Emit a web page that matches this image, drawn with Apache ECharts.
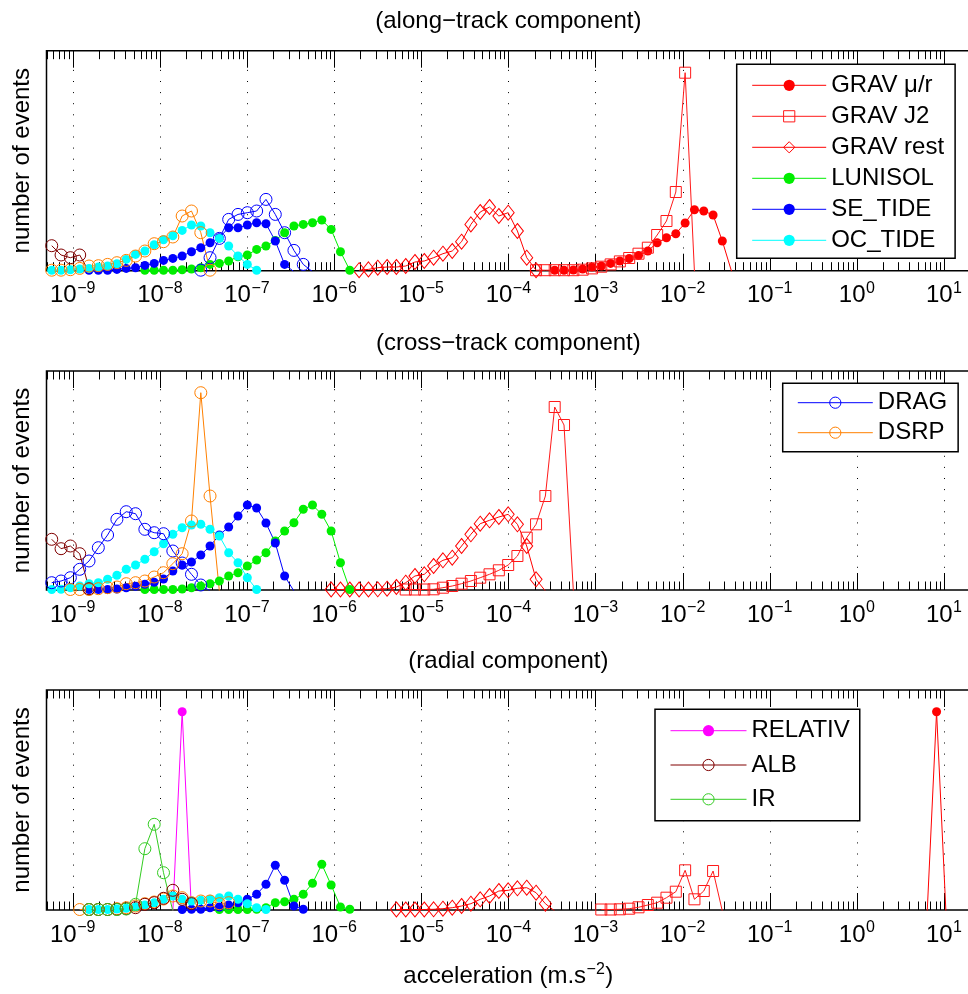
<!DOCTYPE html>
<html><head><meta charset="utf-8">
<script src="https://cdn.jsdelivr.net/npm/echarts@6.0.0/dist/echarts.min.js"></script>
<style>html,body{margin:0;padding:0;background:#fff}#c{width:968px;height:994px}</style>
</head><body><div id="c"></div>
<script>
// ---------- DATA ----------
// log10 of histogram bin centres (acceleration, m.s^-2), bin index k = 0..96
const binCentreLog10 = [
 -9.241,-9.134,-9.027,-8.920,-8.813,-8.706,-8.600,-8.493,-8.386,-8.279,
 -8.172,-8.065,-7.958,-7.851,-7.744,-7.637,-7.530,-7.424,-7.317,-7.210,
 -7.103,-6.996,-6.889,-6.782,-6.675,-6.568,-6.461,-6.354,-6.248,-6.141,
 -6.034,-5.927,-5.820,-5.713,-5.606,-5.499,-5.392,-5.285,-5.178,-5.072,
 -4.965,-4.858,-4.751,-4.644,-4.537,-4.430,-4.323,-4.216,-4.109,-4.002,
 -3.896,-3.789,-3.682,-3.575,-3.468,-3.361,-3.254,-3.147,-3.040,-2.933,
 -2.826,-2.720,-2.613,-2.506,-2.399,-2.292,-2.185,-2.078,-1.971,-1.864,
 -1.757,-1.650,-1.544,-1.437,-1.330,-1.223,-1.116,-1.009,-0.902,-0.795,
 -0.688,-0.581,-0.474,-0.368,-0.261,-0.154,-0.047,0.060,0.167,0.274,
 0.381,0.488,0.595,0.702,0.808,0.915,1.022];

const decadeExponents = [-9,-8,-7,-6,-5,-4,-3,-2,-1,0,1];
const minorMultipliers = [2,3,4,5,6,7,8,9];
const panelTitles = ['(along\u2212track component)', '(cross\u2212track component)', '(radial component)'];
const yLabel = 'number of events';

// number of events per bin (arbitrary scale): first bin index + counts
// along-track
const alongGravMu   = {start:54, counts:[1.5,1.5,1.7,2.7,4.7,5.7,8.3,10.7,13.2,16.2,20.7,29,34,38,48.7,62,60.7,56.7,30.7,0]};
const alongGravJ2   = {start:52, counts:[1.5,1.5,1.5,1.5,1.5,2,3.3,5,7.3,10.3,13.7,18,24,36.7,50.7,79.7,199,0]};
const alongGravRest = {start:33, counts:[1.5,2.3,4,4.7,4.7,5.7,9.7,10.7,14,18,20.7,30,47.3,59.7,64.7,55.7,59,40.7,14,1.5]};
const alongLunisol  = {start:10, counts:[1.5,1.5,1.5,1.5,2,2.7,4,7.3,8.3,10.7,15,16.7,22.3,25.7,31.3,39,45.7,47.3,49,51.7,42.3,20,1.5]};
const alongSeTide   = {start:4,  counts:[1.5,1.5,1.5,2.3,3.3,4,6.3,8.3,11.3,13.3,15.7,20,24,29,34,44,44,46.7,49,48,30.7,7.3,0]};
const alongOcTide   = {start:0,  counts:[1.5,1.5,2,2.7,3.3,4.7,5.7,8,12.3,17.3,20.7,27,32,36,41.3,46.7,45.7,39,33.3,25.7,15.7,7.3,1.5]};
const alongDrag     = {start:16, counts:[1.5,14,33.3,52.3,57.3,59,60.7,72.3,57.3,39,21.3,7.3,0]};
const alongDsrp     = {start:0,  counts:[1.5,1.5,2,3.3,5.7,6,7.3,9,11.3,15.7,20.7,28,30,34.7,55.7,60.7,39,1.5]};
const alongAlb      = {start:0,  counts:[26,16.7,14,16.7,0]};
// cross-track
const crossGravJ2   = {start:38, counts:[1.5,1.5,1.5,1.7,3.3,5,7.3,10,13.3,16.7,20.7,26,35,53.3,66.7,95,184,166,0]};
const crossGravRest = {start:30, counts:[1.5,1.5,1.5,1.5,1.5,1.7,2.3,4,8.3,15,16.7,25,30.7,33.3,45,56.7,67.3,70.7,74,76.7,66.7,45,11.7,0]};
const crossLunisol  = {start:10, counts:[1.5,1.5,1.5,1.5,2,3.3,5,7.3,10,15,18.3,25,31,38.3,50,60,68.3,81.7,86,76.7,60,28.3,1.5]};
const crossSeTide   = {start:4,  counts:[1.5,1.5,1.5,2,3.3,4.7,6.7,8.7,12,20,26,29,36,45,56,64,75,86,83,68,48,15,0]};
const crossOcTide   = {start:0,  counts:[1.5,1.7,3.3,5,7.3,8.3,11.7,15.7,21.7,26,31.7,39.3,47.3,56.7,63.3,66,66.7,61.7,55,38.3,28.3,13.3,1.5]};
const crossDrag     = {start:0,  counts:[8.3,10,13.3,21.7,30,43.3,56,71.7,79.3,77.3,61.7,58.3,57.3,40,28,16.7,6,0]};
const crossDsrp     = {start:2,  counts:[1.5,1.5,1.5,2.3,3.3,4,7.3,8.3,10,14,18.3,27.3,37.3,70,198.3,95,0]};
const crossAlb      = {start:0,  counts:[51.7,42.3,45,37.3,2.3]};
// radial
const radialGravMu   = {start:94, counts:[0,199.3,0]};
const radialGravJ2   = {start:59, counts:[1.5,1.5,1.7,2.3,3.7,6,8.3,13.3,19.3,40.7,11.7,20,40,0]};
const radialGravRest = {start:37, counts:[1.5,1.5,1.5,1.5,1.7,2.3,3.3,5,7.3,11.7,15,20,20.7,22.7,23.3,18.3,7.3,0]};
const radialLunisol  = {start:18, counts:[1.5,1.5,1.5,1.5,1.7,3.3,8.3,9.3,11.7,16.7,27.7,46.7,26,4,1.7]};
const radialSeTide   = {start:14, counts:[1.5,1.7,1.7,3.3,4,6,8.3,11.7,16.7,26.7,45.7,30.7,5,1.7]};
const radialOcTide   = {start:4,  counts:[1.5,1.5,1.5,2,2.7,4,6,8.3,11.7,15,11.7,10,10.7,11.7,13.3,15,11.7,7.3,3.3,1.5]};
const radialDsrp     = {start:3,  counts:[1.5,1.5,1.5,1.5,2.3,3.3,5,7.3,9,12,15,13.3,8.3,10,10,7.3,8.3]};
const radialRelativ  = {start:13, counts:[0,199.3,0]};
const radialAlb      = {start:4,  counts:[1.5,1.5,1.5,1.7,2.3,3.3,6.7,8.3,12.7,20.7,11.7,7.3]};
const radialIr       = {start:4,  counts:[1.5,1.5,1.5,1.5,2,6.7,62.3,86.7,38.3,0]};

const panels = [
  [['GRAV \u03bc/r',alongGravMu],['GRAV J2',alongGravJ2],['GRAV rest',alongGravRest],['LUNISOL',alongLunisol],
   ['SE_TIDE',alongSeTide],['OC_TIDE',alongOcTide],['DRAG',alongDrag],['DSRP',alongDsrp],['ALB',alongAlb]],
  [['GRAV J2',crossGravJ2],['GRAV rest',crossGravRest],['LUNISOL',crossLunisol],['SE_TIDE',crossSeTide],
   ['OC_TIDE',crossOcTide],['DRAG',crossDrag],['DSRP',crossDsrp],['ALB',crossAlb]],
  [['GRAV \u03bc/r',radialGravMu],['GRAV J2',radialGravJ2],['GRAV rest',radialGravRest],['LUNISOL',radialLunisol],
   ['SE_TIDE',radialSeTide],['OC_TIDE',radialOcTide],['DSRP',radialDsrp],['RELATIV',radialRelativ],['ALB',radialAlb],['IR',radialIr]]
];

// ---------- STYLE / LAYOUT ----------
const FONT = 'Liberation Sans';
const styles = {
  'GRAV \u03bc/r': {c:'#ff0000', s:'circle', z:9, open:false},
  'GRAV J2':   {c:'#ff1a1a', s:'rect', z:11, open:true},
  'GRAV rest': {c:'#ff0000', s:'diamond', z:[12,15], open:true},
  'LUNISOL':   {c:'#00ee00', s:'circle', z:9, open:false},
  'SE_TIDE':   {c:'#0000ff', s:'circle', z:9, open:false},
  'OC_TIDE':   {c:'#00ffff', s:'circle', z:9, open:false},
  'DRAG':      {c:'#0000ff', s:'circle', z:12, open:true},
  'DSRP':      {c:'#ff8000', s:'circle', z:12, open:true},
  'RELATIV':   {c:'#ff00ff', s:'circle', z:9, open:false},
  'ALB':       {c:'#800000', s:'circle', z:12, open:true},
  'IR':        {c:'#33cc22', s:'circle', z:12, open:true}
};
const gridLeft = 46.5, gridWidth = 923.7;
const gridTops = [50.7, 371, 690];
const gridHeights = [220, 219, 220];
const yRanges = [[1,221],[1,220],[1,221]];
const xMin = 5e-10, xMax = 20;

const mctx = document.createElement('canvas').getContext('2d');
function tw(t, size){ mctx.font = size + 'px "' + FONT + '"'; return mctx.measureText(t).width; }

// tick list built from decade exponents / minor multipliers
const tickData = [];
decadeExponents.forEach(e => tickData.push([Math.pow(10, e), 0, e]));
for (let e = -10; e <= 1; e++) {
  minorMultipliers.forEach(m => {
    const v = m * Math.pow(10, e);
    if (v >= xMin && v <= xMax) tickData.push([v, 1, e]);
  });
}

function decor(p){
  const y0 = yRanges[p][0], y1 = yRanges[p][1];
  return {
    type:'custom', xAxisIndex:p, yAxisIndex:p, silent:true, animation:false, z:1, clip:false,
    data: tickData,
    renderItem: function(params, api){
      const v = api.value(0), kind = api.value(1);
      const pb = api.coord([v, y0]), pt = api.coord([v, y1]);
      const x = Math.round(pb[0]) + 0.5;
      const L = kind === 0 ? 17 : 8.5;
      const ch = [];
      if (kind === 0) {
        ch.push({type:'line', shape:{x1:x, y1:pb[1], x2:x, y2:pt[1]}, style:{stroke:'#000', lineWidth:1, lineDash:[1,10.1]}});
      }
      ch.push({type:'line', shape:{x1:x, y1:pb[1], x2:x, y2:pb[1]-L}, style:{stroke:'#000', lineWidth:1}});
      ch.push({type:'line', shape:{x1:x, y1:pt[1], x2:x, y2:pt[1]+L}, style:{stroke:'#000', lineWidth:1}});
      if (kind === 0) {
        const e = api.value(2);
        const es = e < 0 ? '\u2212' + Math.abs(e) : String(e);
        const w10 = tw('10', 24), we = tw(es, 16);
        const left = pb[0] - (w10 + 0.5 + we) / 2;
        ch.push({type:'text', style:{text:'10', x:left, y:pb[1]+25, fontSize:24, fontFamily:FONT, fill:'#000', align:'left', verticalAlign:'middle'}});
        ch.push({type:'text', style:{text:es, x:left+w10+0.5, y:pb[1]+18, fontSize:16, fontFamily:FONT, fill:'#000', align:'left', verticalAlign:'middle'}});
      }
      return {type:'group', children: ch};
    }
  };
}

function mkSeries(name, d, p){
  const st = styles[name];
  const data = d.counts.map((c, i) => [Math.pow(10, binCentreLog10[d.start + i]), c]);
  return {
    type:'line', name:name, xAxisIndex:p, yAxisIndex:p, data:data,
    symbol: st.s, symbolSize: st.z, showSymbol:true, clip:true, animation:false, z:3,
    lineStyle:{color:st.c, width:1},
    itemStyle: st.open ? {color:'rgba(0,0,0,0)', borderColor:st.c, borderWidth:1} : {color:st.c, borderWidth:0},
    emphasis:{disabled:true}
  };
}

const series = [];
for (let p = 0; p < 3; p++) series.push(decor(p));
panels.forEach((list, p) => list.forEach(([n, d]) => series.push(mkSeries(n, d, p))));

const grids = [], xAxes = [], yAxes = [];
for (let p = 0; p < 3; p++) {
  grids.push({left:gridLeft, top:gridTops[p], width:gridWidth, height:gridHeights[p], show:true,
    borderColor:'#000', borderWidth:1.5, backgroundColor:'transparent', containLabel:false, outerBoundsMode:'none'});
  xAxes.push({type:'log', logBase:10, gridIndex:p, min:xMin, max:xMax, show:false});
  yAxes.push({type:'value', gridIndex:p, min:yRanges[p][0], max:yRanges[p][1], show:false});
}

const legendText = {fontSize:24, fontFamily:FONT, color:'#000', lineHeight:24};
function mkLegend(names, left, top, itemWidth, gap, padding){
  return {data:names, orient:'vertical', left:left, top:top, itemWidth:itemWidth, itemHeight:14, itemGap:gap,
    padding:padding, borderColor:'#000', borderWidth:1.5, backgroundColor:'#fff', textStyle:legendText,
    selectedMode:false, itemStyle:{borderWidth:1}, lineStyle:{width:1}, z:10};
}
const legends = [
  mkLegend(['GRAV \u03bc/r','GRAV J2','GRAV rest','LUNISOL','SE_TIDE','OC_TIDE'], 736.7, 64.3, 74, 7, [9,11,6,15]),
  mkLegend(['DRAG','DSRP'], 782.7, 383.3, 75, 6, [7.4,11,7,14.6]),
  mkLegend(['RELATIV','ALB','IR'], 655, 709.3, 76, 10.3, [9.4,10,9.4,15])
];

// texts
const gx = gridLeft + gridWidth / 2;
const graphics = [];
const titleY = [21.7, 343, 661];
for (let p = 0; p < 3; p++) {
  graphics.push({type:'text', style:{text:panelTitles[p], x:gx, y:titleY[p], fontSize:24, fontFamily:FONT, fill:'#000', align:'center', verticalAlign:'middle'}});
  graphics.push({type:'text', x:22.5, y:gridTops[p] + gridHeights[p]/2, rotation:Math.PI/2,
    style:{text:yLabel, x:0, y:0, fontSize:24, fontFamily:FONT, fill:'#000', align:'center', verticalAlign:'middle'}});
}
(function(){
  const a = 'acceleration (m.s', s = '\u22122', b = ')';
  const wa = tw(a, 24), ws = tw(s, 16), wb = tw(b, 24);
  const total = wa + 0.5 + ws + 0.5 + wb;
  const left = gx - total / 2;
  const base = 985;
  graphics.push({type:'text', style:{text:a, x:left, y:base - 8.3, fontSize:24, fontFamily:FONT, fill:'#000', align:'left', verticalAlign:'middle'}});
  graphics.push({type:'text', style:{text:s, x:left + wa + 0.5, y:base - 9.5 - 5.5, fontSize:16, fontFamily:FONT, fill:'#000', align:'left', verticalAlign:'middle'}});
  graphics.push({type:'text', style:{text:b, x:left + wa + 0.5 + ws + 0.5, y:base - 8.3, fontSize:24, fontFamily:FONT, fill:'#000', align:'left', verticalAlign:'middle'}});
})();

const chart = echarts.init(document.getElementById('c'), null, {renderer:'canvas'});
chart.setOption({
  animation:false,
  backgroundColor:'#fff',
  grid:grids, xAxis:xAxes, yAxis:yAxes,
  legend:legends,
  graphic:{elements:graphics},
  series:series
});
</script></body></html>
